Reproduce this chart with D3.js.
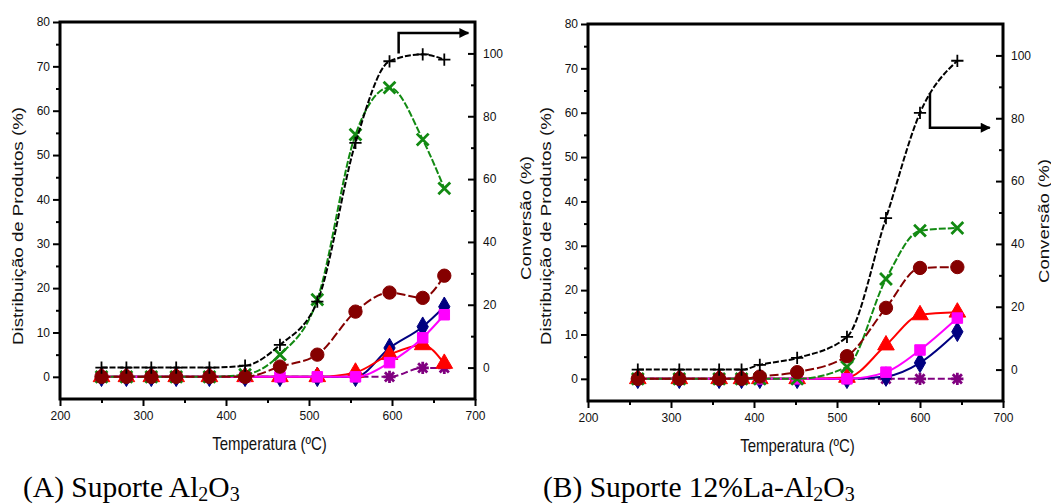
<!DOCTYPE html>
<html>
<head>
<meta charset="utf-8">
<script src="https://cdn.jsdelivr.net/npm/d3@7"></script>
<style>
  body { margin: 0; background: #fff; }
  text { font-family: "Liberation Sans", Arial, sans-serif; fill: #111; }
  .caption { font-family: "Liberation Serif", "Times New Roman", serif; font-size: 29.5px; fill: #000; }
</style>
</head>
<body>
<svg width="1051" height="504"></svg>
<script>
// panel A: suporte Al2O3
var tempA = [250, 280, 310, 340, 380, 423, 465, 510, 556, 597, 637, 663];
var convA = [0, 0, 0, 0, 0, 0.6, 7.2, 21, 71.5, 97.5, 99.7, 98];
var greenA = [0, 0, 0, 0, 0, 0.5, 5, 17.4, 54.6, 65.2, 53.5, 42.5];
var maroonA = [0, 0, 0, 0, 0, 0, 2.3, 5, 14.7, 19, 17.8, 22.8];
var navyA = [0, 0, 0, 0, 0, 0, 0, 0, 0, 6.5, 11.3, 15.8];
var magentaA = [0, 0, 0, 0, 0, 0, 0, 0, 0, 3.2, 8.8, 14];
var redA = [0, 0, 0, 0, 0, 0, 0, 0, 1, 5, 7.2, 3];
var purpleA = [0, 0, 0, 0, 0, 0, 0, 0, 0, 0, 2, 2];
var arrowA = [[608, 100], [608, 106.5], [692, 106.5]];

// panel B: suporte 12%La-Al2O3
var tempB = [260, 310, 358, 385, 407, 452, 512, 559, 600, 645];
var convB = [0, 0, 0, 0, 1.5, 3.7, 10.4, 48.2, 81.7, 98.3];
var greenB = [0, 0, 0, 0, 0, 0, 2.7, 22.5, 33.4, 34];
var maroonB = [0, 0, 0, 0, 0.5, 1.5, 5.1, 16, 25, 25.2];
var navyB = [0, 0, 0, 0, 0, 0, 0, 0.5, 3.6, 10.6];
var magentaB = [0, 0, 0, 0, 0, 0, 0, 1.5, 6.5, 13.7];
var redB = [0, 0, 0, 0, 0, 0, 0.3, 7.6, 14.4, 15];
var purpleB = [0, 0, 0, 0, 0, 0, 0, 0, 0, 0];
var arrowB = [[612, 88], [612, 77], [684, 77]];

var xTicks = [200, 300, 400, 500, 600, 700],
    xMinor = [250, 350, 450, 550, 650],
    leftTicks = [0, 10, 20, 30, 40, 50, 60, 70, 80],
    leftMinor = [5, 15, 25, 35, 45, 55, 65, 75],
    rightTicks = [0, 20, 40, 60, 80, 100],
    rightMinor = [10, 30, 50, 70, 90];

var svg = d3.select("svg");

svg.append("defs").append("marker")
    .attr("id", "head")
    .attr("viewBox", "0 0 10 10")
    .attr("refX", 9).attr("refY", 5)
    .attr("markerWidth", 4.5).attr("markerHeight", 4)
    .attr("orient", "auto")
  .append("path")
    .attr("d", "M0,0L10,5L0,10z")
    .attr("fill", "#000");

// stroke-only symbols
var plusSym = { draw: function(c, s) { var r = Math.sqrt(s) / 2; c.moveTo(-r, 0); c.lineTo(r, 0); c.moveTo(0, -r); c.lineTo(0, r); } };
var timesSym = { draw: function(c, s) { var r = Math.sqrt(s) / 2; c.moveTo(-r, -r); c.lineTo(r, r); c.moveTo(-r, r); c.lineTo(r, -r); } };
var starSym = { draw: function(c, s) {
  var r = Math.sqrt(s) / 2, q = r * 0.75;
  c.moveTo(-r, 0); c.lineTo(r, 0); c.moveTo(0, -r); c.lineTo(0, r);
  c.moveTo(-q, -q); c.lineTo(q, q); c.moveTo(-q, q); c.lineTo(q, -q);
} };

function vlabel(g, cx, cy, len, txt) {
  g.append("text")
      .attr("transform", "translate(" + cx + "," + cy + ") rotate(-90)")
      .attr("text-anchor", "middle").attr("dy", "0.35em")
      .attr("textLength", len).attr("lengthAdjust", "spacingAndGlyphs")
      .style("font-size", "15px")
      .text(txt);
}

function panel(p) {
  var x = d3.scaleLinear().domain([200, 700]).range([p.x0, p.x1]);
  var yL = d3.scaleLinear().domain([-5, 80]).range([p.y1, p.y0]);
  var yR = d3.scaleLinear().domain([-10, 110]).range([p.y1, p.y0]);
  var g = svg.append("g");

  function axis(a, tr) {
    var ax = g.append("g").attr("transform", tr).call(a);
    ax.select(".domain").remove();
    ax.selectAll("line").attr("stroke", "#000").attr("stroke-width", 2);
    ax.selectAll("text").style("font-size", "12px").attr("fill", "#111");
  }
  axis(d3.axisBottom(x).tickValues(xTicks).tickSize(7).tickPadding(5), "translate(0," + p.y1 + ")");
  axis(d3.axisBottom(x).tickValues(xMinor).tickSize(4).tickFormat(""), "translate(0," + p.y1 + ")");
  axis(d3.axisLeft(yL).tickValues(leftTicks).tickSize(7).tickPadding(3), "translate(" + p.x0 + ",0)");
  axis(d3.axisLeft(yL).tickValues(leftMinor).tickSize(4).tickFormat(""), "translate(" + p.x0 + ",0)");
  axis(d3.axisRight(yR).tickValues(rightTicks).tickSize(-7).tickPadding(8), "translate(" + p.x1 + ",0)");
  axis(d3.axisRight(yR).tickValues(rightMinor).tickSize(-4).tickFormat(""), "translate(" + p.x1 + ",0)");

  g.append("rect")
      .attr("x", p.x0).attr("y", p.y0)
      .attr("width", p.x1 - p.x0).attr("height", p.y1 - p.y0)
      .attr("fill", "none").attr("stroke", "#000").attr("stroke-width", 3);

  var series = [
    { v: p.purple, c: "#800080", y: yL, sym: starSym, size: 150, stroke: true, dash: "7,3" },
    { v: p.navy, c: "#000080", y: yL, sym: d3.symbolDiamond, size: 110, dash: null },
    { v: p.red, c: "#ff0000", y: yL, sym: d3.symbolTriangle, size: 120, dash: null },
    { v: p.magenta, c: "#ff00ff", y: yL, sym: d3.symbolSquare, size: 110, dash: null },
    { v: p.green, c: "#128a12", y: yL, sym: timesSym, size: 140, stroke: true, dash: "7,2" },
    { v: p.maroon, c: "#850000", y: yL, sym: d3.symbolCircle, size: 140, dash: "9,3" },
    { v: p.conv, c: "#000", y: yR, sym: plusSym, size: 150, stroke: true, dash: "6,2", thin: true }
  ];

  series.forEach(function(s) {
    var pts = p.temp.map(function(t, i) { return [t, s.v[i]]; });
    var line = d3.line()
        .x(function(d) { return x(d[0]); })
        .y(function(d) { return s.y(d[1]); })
        .curve(d3.curveMonotoneX);
    g.append("path")
        .datum(pts)
        .attr("d", line)
        .attr("fill", "none")
        .attr("stroke", s.c)
        .attr("stroke-width", 2)
        .attr("stroke-dasharray", s.dash);
    g.selectAll(null)
        .data(pts)
      .enter().append("path")
        .attr("transform", function(d) { return "translate(" + x(d[0]) + "," + s.y(d[1]) + ")"; })
        .attr("d", d3.symbol().type(s.sym).size(s.size))
        .attr("fill", s.stroke ? "none" : s.c)
        .attr("stroke", s.c)
        .attr("stroke-width", s.stroke ? (s.thin ? 1.8 : 2.8) : 1);
  });

  g.append("path")
      .datum(p.arrow)
      .attr("d", d3.line().x(function(d) { return x(d[0]); }).y(function(d) { return yR(d[1]); }))
      .attr("fill", "none")
      .attr("stroke", "#000")
      .attr("stroke-width", 2.5)
      .attr("marker-end", "url(#head)");

  vlabel(g, p.x0 - 42, 226, 238, "Distribuição de Produtos (%)");
  vlabel(g, p.x1 + p.convDx, p.convY, 124, "Conversão (%)");
  g.append("text")
      .attr("transform", "translate(" + ((p.x0 + p.x1) / 2 + 2) + "," + (p.y1 + 51) + ") scale(1,1.2)")
      .attr("text-anchor", "middle")
      .style("font-size", "15px")
      .text("Temperatura (ºC)");

  var cap = svg.append("text").attr("class", "caption").attr("x", p.capX).attr("y", 497);
  p.caption.forEach(function(part) {
    var t = cap.append("tspan").text(part[0]);
    if (part[1]) t.attr("baseline-shift", "-22%").style("font-size", "20px");
  });
}

panel({ x0: 60, x1: 475, y0: 22, y1: 399, temp: tempA, conv: convA, green: greenA, maroon: maroonA,
        navy: navyA, magenta: magentaA, red: redA, purple: purpleA, arrow: arrowA, capX: 23,
        convDx: 51, convY: 218,
        caption: [["(A) Suporte Al"], ["2", 1], ["O"], ["3", 1]] });
panel({ x0: 588, x1: 1003, y0: 24, y1: 401, temp: tempB, conv: convB, green: greenB, maroon: maroonB,
        navy: navyB, magenta: magentaB, red: redB, purple: purpleB, arrow: arrowB, capX: 543,
        convDx: 41, convY: 221,
        caption: [["(B) Suporte 12%La-Al"], ["2", 1], ["O"], ["3", 1]] });
</script>
</body>
</html>
